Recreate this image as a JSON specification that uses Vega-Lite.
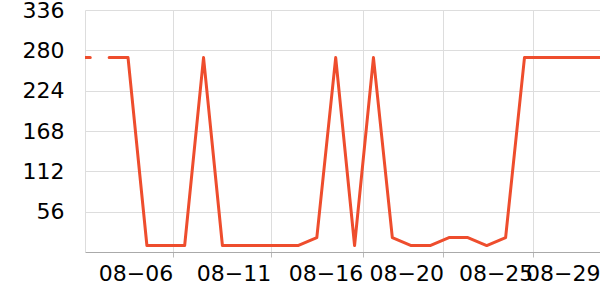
{
  "$schema": "https://vega.github.io/schema/vega-lite/v6.json",
  "autosize": "none",
  "width": 515,
  "height": 242,
  "padding": {"left": 85, "top": 10, "right": 0, "bottom": 48},
  "background": "white",
  "config": {"view": {"stroke": null}},
  "data": {
    "values": [
      {"t": "2024-08-01T00:00:00", "v": 270},
      {"t": "2024-08-02T00:00:00", "v": 270},
      {"t": "2024-08-02T12:00:00", "v": null},
      {"t": "2024-08-03T00:00:00", "v": 270},
      {"t": "2024-08-04T00:00:00", "v": 270},
      {"t": "2024-08-05T00:00:00", "v": 9},
      {"t": "2024-08-06T00:00:00", "v": 9},
      {"t": "2024-08-07T00:00:00", "v": 9},
      {"t": "2024-08-08T00:00:00", "v": 270},
      {"t": "2024-08-09T00:00:00", "v": 9},
      {"t": "2024-08-10T00:00:00", "v": 9},
      {"t": "2024-08-11T00:00:00", "v": 9},
      {"t": "2024-08-12T00:00:00", "v": 9},
      {"t": "2024-08-13T00:00:00", "v": 9},
      {"t": "2024-08-14T00:00:00", "v": 20},
      {"t": "2024-08-15T00:00:00", "v": 270},
      {"t": "2024-08-16T00:00:00", "v": 9},
      {"t": "2024-08-17T00:00:00", "v": 270},
      {"t": "2024-08-18T00:00:00", "v": 20},
      {"t": "2024-08-19T00:00:00", "v": 9},
      {"t": "2024-08-20T00:00:00", "v": 9},
      {"t": "2024-08-21T00:00:00", "v": 20},
      {"t": "2024-08-22T00:00:00", "v": 20},
      {"t": "2024-08-23T00:00:00", "v": 9},
      {"t": "2024-08-24T00:00:00", "v": 20},
      {"t": "2024-08-25T00:00:00", "v": 270},
      {"t": "2024-08-26T00:00:00", "v": 270},
      {"t": "2024-08-27T00:00:00", "v": 270},
      {"t": "2024-08-28T00:00:00", "v": 270},
      {"t": "2024-08-29T00:00:00", "v": 270}
    ]
  },
  "mark": {
    "type": "line",
    "color": "#ee4d2d",
    "strokeWidth": 3,
    "strokeCap": "round",
    "strokeJoin": "round",
    "clip": true,
    "invalid": "break-paths-filter-domains"
  },
  "encoding": {
    "x": {
      "field": "t",
      "type": "temporal",
      "title": null,
      "scale": {
        "nice": false,
        "domain": [
          {"year": 2024, "month": 8, "date": 1, "hours": 17, "minutes": 18},
          {"year": 2024, "month": 8, "date": 29, "hours": 0, "minutes": 0}
        ]
      },
      "axis": {
        "values": [
          {"year": 2024, "month": 8, "date": 6, "hours": 8, "minutes": 44},
          {"year": 2024, "month": 8, "date": 11, "hours": 13, "minutes": 22},
          {"year": 2024, "month": 8, "date": 16, "hours": 10, "minutes": 22},
          {"year": 2024, "month": 8, "date": 20, "hours": 17, "minutes": 1},
          {"year": 2024, "month": 8, "date": 25, "hours": 10, "minutes": 36},
          {"year": 2024, "month": 8, "date": 29, "hours": 0, "minutes": 0}
        ],
        "format": "%m−%d",
        "labelAlign": "right",
        "labelFont": "DejaVu Sans",
        "labelFontSize": 22,
        "labelColor": "#000000",
        "labelPadding": 6,
        "labelFlush": false,
        "labelOverlap": false,
        "labelBound": false,
        "tickColor": "#bbbbbb",
        "tickSize": 5,
        "domainColor": "#aaaaaa",
        "domainWidth": 1,
        "grid": true,
        "gridColor": "#dddddd",
        "gridWidth": 1
      }
    },
    "y": {
      "field": "v",
      "type": "quantitative",
      "title": null,
      "scale": {"domain": [0, 336], "nice": false, "zero": true},
      "axis": {
        "values": [0, 56, 112, 168, 224, 280, 336],
        "labelExpr": "datum.value == 0 ? '' : datum.label",
        "labelFont": "DejaVu Sans",
        "labelFontSize": 22,
        "labelColor": "#000000",
        "labelPadding": 21,
        "ticks": false,
        "domainColor": "#dddddd",
        "grid": true,
        "gridColor": "#dddddd",
        "gridWidth": 1
      }
    }
  }
}
